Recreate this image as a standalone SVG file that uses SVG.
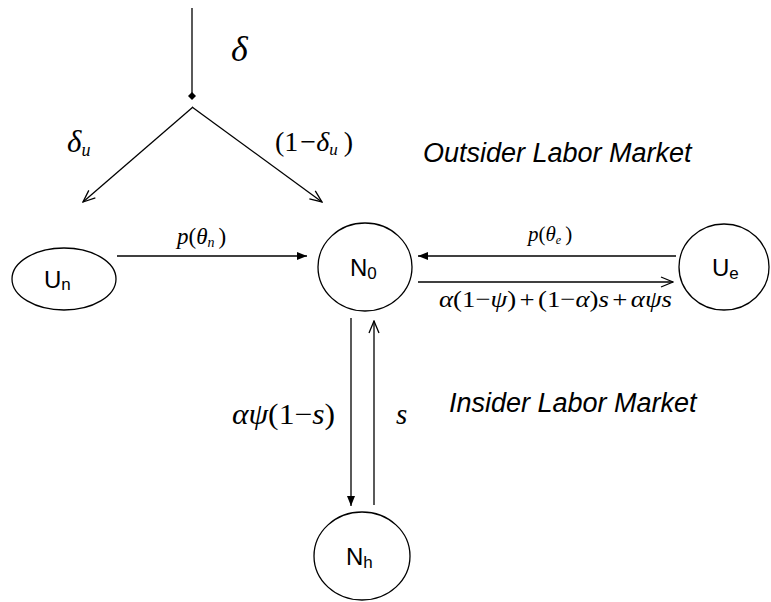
<svg xmlns="http://www.w3.org/2000/svg" width="771" height="602" viewBox="0 0 771 602">
  <style>
    .node ellipse { fill: #fff; stroke: #000; stroke-width: 1.3; }
    .lbl { font-family: "Liberation Sans", Arial, sans-serif; font-size: 24px; fill: #000; }
    .sub { font-size: 17px; }
    .edge { stroke: #000; stroke-width: 1.3; fill: none; }
    .math { font-family: "Liberation Serif", "Times New Roman", serif; fill: #000; }
    .it { font-style: italic; }
    .region { font-family: "Liberation Sans", Arial, sans-serif; font-style: italic; font-size: 27px; fill: #000; }
  </style>
  <defs>
    <marker id="solid" markerUnits="userSpaceOnUse" viewBox="0 0 10 8" markerWidth="10" markerHeight="8" refX="10" refY="4" orient="auto">
      <path d="M0,0 L10,4 L0,8 z" fill="#000"/>
    </marker>
    <marker id="open" markerUnits="userSpaceOnUse" viewBox="-1 -1 14 12" markerWidth="14" markerHeight="12" refX="12" refY="5" orient="auto">
      <path d="M0,0 L12,5 L0,10" fill="none" stroke="#000" stroke-width="1.3"/>
    </marker>
    <marker id="diamond" markerUnits="userSpaceOnUse" viewBox="0 0 8 8" markerWidth="8" markerHeight="8" refX="4" refY="4" orient="auto">
      <path d="M0,4 L4,0 L8,4 L4,8 z" fill="#000"/>
    </marker>
  </defs>

  <!-- transitions between states -->
  <g id="connectors">
    <path class="edge" d="M192,8 L192,96" marker-end="url(#diamond)"/>
    <path class="edge" d="M193,107 L83,202" marker-end="url(#open)"/>
    <path class="edge" d="M192,107 L322,202" marker-end="url(#open)"/>
    <path class="edge" d="M117,256 L307,256" marker-end="url(#solid)"/>
    <path class="edge" d="M676,256 L418,256" marker-end="url(#solid)"/>
    <path class="edge" d="M418,282 L673,282" marker-end="url(#open)"/>
    <path class="edge" d="M351,318 L351,506" marker-end="url(#solid)"/>
    <path class="edge" d="M374,505 L374,321" marker-end="url(#open)"/>
  </g>

  <!-- transition rates -->
  <g id="rates">
    <text class="math it" x="231" y="61" font-size="36">δ</text>
    <text class="math" x="67" y="152" font-size="31"><tspan class="it">δ</tspan><tspan class="it" font-size="18" dy="4">u</tspan></text>
    <text class="math" x="275" y="151" font-size="28">(1<tspan dx="2">−</tspan><tspan class="it">δ</tspan><tspan class="it" font-size="17" dy="4">u</tspan><tspan dy="-4" dx="6">)</tspan></text>
    <text class="math" x="177" y="244" font-size="23"><tspan class="it">p</tspan>(<tspan class="it">θ</tspan><tspan class="it" font-size="14" dy="3">n</tspan><tspan dy="-3" dx="4">)</tspan></text>
    <text class="math" x="528" y="241" font-size="21"><tspan class="it">p</tspan>(<tspan class="it">θ</tspan><tspan class="it" font-size="12" dy="3">e</tspan><tspan dy="-3" dx="4">)</tspan></text>
    <text class="math" x="439" y="307" font-size="24" textLength="233" lengthAdjust="spacingAndGlyphs"><tspan class="it">α</tspan>(1−<tspan class="it">ψ</tspan>)<tspan dx="3">+</tspan><tspan dx="3">(1−</tspan><tspan class="it">α</tspan>)<tspan class="it">s</tspan><tspan dx="3">+</tspan><tspan class="it" dx="3">αψs</tspan></text>
    <text class="math" x="232" y="424" font-size="29" textLength="103" lengthAdjust="spacingAndGlyphs"><tspan class="it">αψ</tspan>(1−<tspan class="it">s</tspan>)</text>
    <text class="math it" x="396" y="424" font-size="29">s</text>
  </g>

  <!-- market labels -->
  <text class="region" x="423" y="162">Outsider Labor Market</text>
  <text class="region" x="449" y="412">Insider Labor Market</text>

  <g id="node-Un" class="node">
    <ellipse cx="64" cy="279" rx="52" ry="31"/>
    <text class="lbl" x="44" y="288">U<tspan class="sub" dy="2">n</tspan></text>
  </g>
  <g id="node-N0" class="node">
    <ellipse cx="365" cy="267" rx="47" ry="44"/>
    <text class="lbl" x="350" y="276">N<tspan class="sub" dy="3">0</tspan></text>
  </g>
  <g id="node-Ue" class="node">
    <ellipse cx="724" cy="267" rx="45" ry="43"/>
    <text class="lbl" x="712" y="276">U<tspan class="sub" dy="3">e</tspan></text>
  </g>
  <g id="node-Nh" class="node">
    <ellipse cx="362" cy="556" rx="48" ry="44"/>
    <text class="lbl" x="346" y="565">N<tspan class="sub" dy="3">h</tspan></text>
  </g>
</svg>
